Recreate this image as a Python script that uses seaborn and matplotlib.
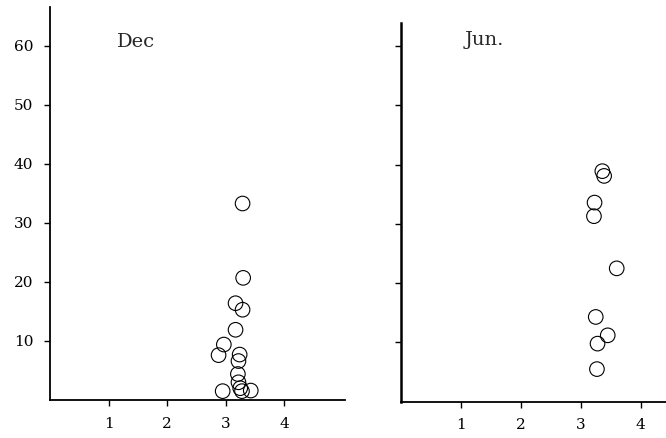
import matplotlib
matplotlib.use("Agg")
import matplotlib.pyplot as plt
import seaborn as sns
import pandas as pd

# December samples
dec_x = [3.29, 3.30, 3.17, 3.29, 3.17, 2.97, 2.88, 3.24, 3.22, 3.21, 3.22, 3.25, 2.95, 3.43, 3.28]
dec_y = [33.3, 20.7, 16.4, 15.3, 11.9, 9.4, 7.6, 7.7, 6.6, 4.4, 3.0, 2.0, 1.5, 1.6, 1.5]

# June samples
jun_x = [3.36, 3.39, 3.23, 3.22, 3.60, 3.25, 3.45, 3.28, 3.27]
jun_y = [38.9, 38.1, 33.6, 31.3, 22.5, 14.3, 11.2, 9.8, 5.5]

x_ticks = [1, 2, 3, 4]
y_ticks = [10, 20, 30, 40, 50, 60]

sns.set_style("ticks")
plt.rcParams["font.family"] = ["DejaVu Serif"]

fig = plt.figure(figsize=(6.66, 4.38), dpi=100)
ax_dec = fig.add_axes([50 / 666, 38 / 438, 295 / 666, 393 / 438])
ax_jun = fig.add_axes([401 / 666, 36.3 / 438, 302 / 666, 378.7 / 438])

dec_df = pd.DataFrame({"x": dec_x, "y": dec_y})
jun_df = pd.DataFrame({"x": jun_x, "y": jun_y})

marker_kw = dict(s=110, facecolor="none", edgecolor="black", linewidth=0.8)
sns.scatterplot(data=dec_df, x="x", y="y", ax=ax_dec, **marker_kw)
sns.scatterplot(data=jun_df, x="x", y="y", ax=ax_jun, **marker_kw)

for ax in (ax_dec, ax_jun):
    ax.set_xlim(0, 5.04)
    ax.set_xticks(x_ticks)
    ax.set_xticklabels([str(t) for t in x_ticks])
    ax.set_yticks(y_ticks)
    ax.set_xlabel("")
    ax.set_ylabel("")
    for side in ("top", "right"):
        ax.spines[side].set_visible(False)
    for side in ("left", "bottom"):
        ax.spines[side].set_linewidth(1.3)
        ax.spines[side].set_color("black")
    ax.tick_params(axis="both", direction="out", length=4, width=1.0,
                   colors="black", labelsize=11, pad=8)
    ax.set_facecolor("none")

ax_dec.set_ylim(0, 66.6)
ax_dec.set_yticklabels([str(t) for t in y_ticks])
ax_jun.set_ylim(0, 63.9)
ax_jun.set_yticklabels([])
ax_jun.spines["left"].set_linewidth(1.8)

ax_dec.text(0.228, 0.91, "Dec", transform=ax_dec.transAxes, fontsize=14,
            ha="left", va="center")
ax_jun.text(0.21, 0.955, "Jun.", transform=ax_jun.transAxes, fontsize=14,
            ha="left", va="center")

fig.savefig("out.png", dpi=100)
